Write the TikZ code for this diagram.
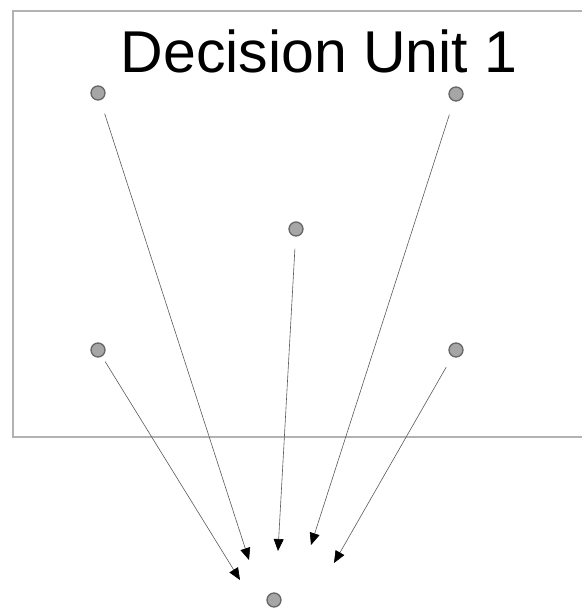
\documentclass[tikz,border=0pt]{standalone}
\usepackage{fontspec}
\setmainfont{Liberation Sans}
\usetikzlibrary{arrows.meta}
\begin{document}
\begin{tikzpicture}[x=1pt,y=-1pt,
    unit/.style={circle,draw=black!60,fill=black!35,line width=1.3pt,inner sep=0pt,minimum size=14pt},
    vote/.style={-{Triangle[length=12pt,width=10pt,color=black]},draw=black!65,line width=0.6pt,shorten <=14pt}]
  \useasboundingbox (0,0) rectangle (582,611);
  \draw[black!30,line width=1.3pt] (582,11) -- (13,11) -- (13,437) -- (582,437);
  \node[anchor=base,font=\fontsize{59}{59}\selectfont] (title) at (319,72) {Decision Unit 1};
  \draw
    (98,93) node[unit] (1){}
    (456,94) node[unit] (2){}
    (296,229) node[unit] (3){}
    (98,350) node[unit] (4){}
    (456,350) node[unit] (5){}
    (274,600) node[unit] (0){};
  \coordinate (t1) at (249,560);
  \coordinate (t2) at (311,545);
  \coordinate (t3) at (278,551);
  \coordinate (t4) at (240,580);
  \coordinate (t5) at (334,563);
  \begin{scope}[vote]
    \draw (1) to (t1);
    \draw (2) to (t2);
    \draw[shorten <=12pt] (3) to (t3);
    \draw[shorten <=6pt] (4) to (t4);
    \draw[shorten <=12pt] (5) to (t5);
  \end{scope}
\end{tikzpicture}
\end{document}
